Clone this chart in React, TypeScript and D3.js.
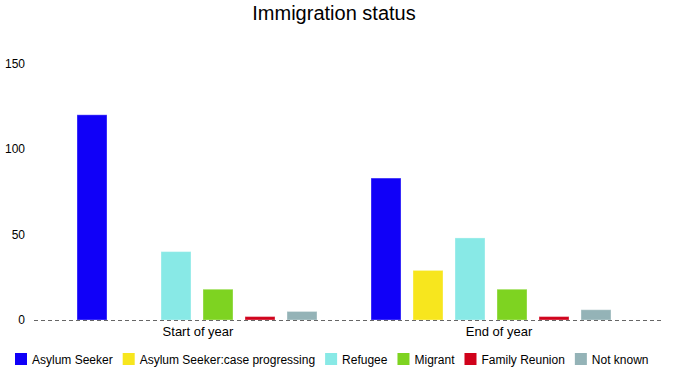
import React from "react";
import * as d3 from "d3";

const categories = ["Start of year", "End of year"];
const seriesNames = [
  "Asylum Seeker",
  "Asylum Seeker:case progressing",
  "Refugee",
  "Migrant",
  "Family Reunion",
  "Not known",
];
const seriesColors = ["#1000F8", "#F7E61E", "#88E9E6", "#7ED321", "#D0021B", "#94B3B7"];
const startOfYear = [120, 0, 40, 18, 2, 5];
const endOfYear = [83, 29, 48, 18, 2, 6];
const yTicks = [0, 50, 100, 150];

const W = 689;
const H = 374;
const FONT = "'Liberation Sans', Arial, sans-serif";

function textWidth(t: string, size: number) {
  const c = document.createElement("canvas").getContext("2d");
  if (!c) return t.length * size * 0.55;
  c.font = `${size}px ${FONT}`;
  return c.measureText(t).width;
}

export default function App() {
  const values = [startOfYear, endOfYear];
  const y = d3.scaleLinear().domain([0, 150]).range([320, 63.5]);
  const x0 = d3.scaleBand<string>().domain(categories).range([71, 617]).paddingInner(1 / 7);
  const x1 = d3
    .scaleBand<string>()
    .domain(seriesNames)
    .range([0, x0.bandwidth()])
    .paddingInner(12 / 42)
    .paddingOuter(6 / 42);
  const xLabel = d3.scalePoint<string>().domain(categories).range([198, 499]);

  // legend layout
  let lx = 15;
  const legend = seriesNames.map((n, i) => {
    const item = { n, i, x: lx };
    lx += 12 + 5 + textWidth(n, 12) + 10;
    return item;
  });

  return (
    <svg
      width={W}
      height={H}
      style={{ position: "absolute", left: 0, top: 0, background: "#fff" }}
      fontFamily={FONT}
    >
      <text x={334} y={20} textAnchor="middle" fontSize={20} fill="#000">
        Immigration status
      </text>
      {yTicks.map((t) => (
        <text key={t} x={25} y={y(t) + 4} textAnchor="end" fontSize={12} fill="#000">
          {t}
        </text>
      ))}
      {categories.map((c, ci) => (
        <g key={c} transform={`translate(${x0(c)},0)`}>
          {seriesNames.map((s, si) => {
            const v = values[ci][si];
            if (!v) return null;
            return (
              <rect
                key={s}
                x={x1(s)}
                y={y(v)}
                width={x1.bandwidth()}
                height={y(0) - y(v)}
                fill={seriesColors[si]}
                stroke="rgba(255,255,255,0.35)"
                strokeWidth={1}
              />
            );
          })}
        </g>
      ))}
      <line x1={34} x2={661} y1={320.5} y2={320.5} stroke="#666" strokeWidth={1} strokeDasharray="4,3" />
      {categories.map((c) => (
        <text key={c} x={xLabel(c)} y={336} textAnchor="middle" fontSize={13} fill="#000">
          {c}
        </text>
      ))}
      {legend.map((it) => (
        <g key={it.n}>
          <rect x={it.x} y={353} width={12} height={12} fill={seriesColors[it.i]} />
          <text x={it.x + 17} y={363.5} fontSize={12} fill="#000">
            {it.n}
          </text>
        </g>
      ))}
    </svg>
  );
}
